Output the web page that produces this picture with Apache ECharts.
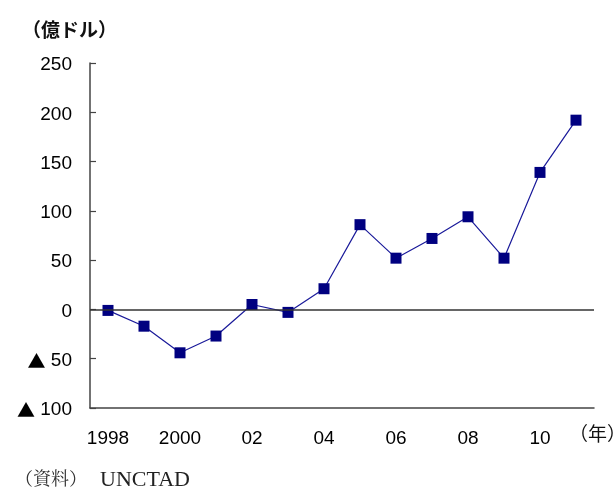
<!DOCTYPE html>
<html>
<head>
<meta charset="utf-8">
<script src="https://cdn.jsdelivr.net/npm/echarts@6/dist/echarts.min.js"></script>
<style>
  html, body { margin: 0; padding: 0; background: #fff; }
  #chart { width: 616px; height: 489px; }
</style>
</head>
<body>
<div id="chart"></div>
<script>
// Years on the category axis (labels shown every other year)
const years = ['1998', '1999', '2000', '2001', '2002', '2003', '2004',
               '2005', '2006', '2007', '2008', '2009', '2010', '2011'];
const yearLabels = ['1998', '', '2000', '', '02', '', '04',
                    '', '06', '', '08', '', '10', ''];
// Net flow, 100 million US dollars
const values = [-1, -17, -44, -27, 5, -3, 21, 86, 52, 72, 94, 52, 139, 192];

const numFont = '"Liberation Sans", Arial, sans-serif';
const cjkFont = '"Noto Sans CJK JP", sans-serif';
const chart = echarts.init(document.getElementById('chart'));

chart.setOption({
  animation: false,
  backgroundColor: '#fff',
  grid: { left: 90, right: 22, top: 63, bottom: 81 },
  xAxis: {
    type: 'category',
    data: years,
    boundaryGap: true,
    axisLine: { onZero: false, lineStyle: { color: '#444', width: 1.5 } },
    axisTick: { inside: true, length: 6, interval: 0, lineStyle: { color: '#444', width: 1.2 } },
    axisLabel: {
      interval: 0,
      margin: 21,
      color: '#000',
      fontSize: 19,
      fontFamily: numFont,
      formatter: (v, i) => yearLabels[i]
    },
    splitLine: { show: false }
  },
  yAxis: {
    type: 'value',
    min: -100,
    max: 250,
    interval: 50,
    axisLine: { show: true, lineStyle: { color: '#444', width: 1.5 } },
    axisTick: { show: true, inside: true, length: 6, lineStyle: { color: '#444', width: 1.2 } },
    axisLabel: {
      margin: 18,
      color: '#000',
      fontSize: 19,
      fontFamily: numFont,
      padding: [4, 0, 0, 0],
      formatter: v => (v < 0 ? '{tri|▲} ' + Math.abs(v) : String(v)),
      rich: {
        tri: { fontSize: 18, fontFamily: cjkFont, color: '#000' }
      }
    },
    splitLine: { show: false }
  },
  series: [{
    type: 'line',
    data: values,
    symbol: 'rect',
    symbolSize: 11,
    itemStyle: { color: '#000080' },
    lineStyle: { color: '#1a1a9a', width: 1.2 },
    markLine: {
      silent: true,
      symbol: 'none',
      label: { show: false },
      lineStyle: { color: '#333', width: 1.5, type: 'solid' },
      data: [{ yAxis: 0 }]
    },
    z: 3
  }],
  graphic: [
    {
      type: 'text', left: 22, top: 20,
      style: { text: '（億ドル）', fontSize: 19, fontWeight: 'bold', fontFamily: cjkFont, fill: '#111' }
    },
    {
      type: 'text', left: 569, top: 424,
      style: { text: '（年）', fontSize: 19, fontFamily: cjkFont, fill: '#111' }
    },
    {
      type: 'text', left: 15, top: 469,
      style: {
        text: '（資料）',
        fontSize: 18,
        fontFamily: '"Noto Serif CJK JP", "Noto Sans CJK JP", serif',
        fill: '#333'
      }
    },
    {
      type: 'text', left: 100, top: 469,
      style: {
        text: 'UNCTAD',
        fontSize: 22,
        fontFamily: '"Liberation Serif", serif',
        fill: '#222'
      }
    }
  ]
});
</script>
</body>
</html>
